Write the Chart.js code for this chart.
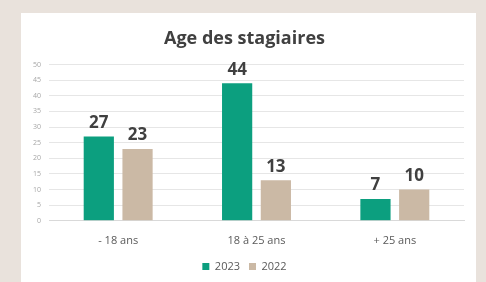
<!DOCTYPE html>
<html>
<head>
<meta charset="utf-8">
<script src="https://cdn.jsdelivr.net/npm/chart.js@4"></script>
<style>
  html, body { margin: 0; padding: 0; background: #e9e2dc; }
  body { width: 486px; height: 282px; position: relative; overflow: hidden; }
  #panel { position: absolute; left: 21px; top: 13px; width: 455px; height: 269px; background: #ffffff; }
</style>
</head>
<body>
<div id="panel"><canvas id="chAge" width="455" height="269"></canvas></div>
<script>
// chart data
var categories = ['- 18 ans', '18 à 25 ans', '+ 25 ans'];
var values2023 = [27, 44, 7];
var values2022 = [23, 13, 10];

var green = '#0c9f7f';
var beige = '#cbb9a5';

// value labels above each bar
var barLabels = {
    id: 'barLabels',
    afterDatasetsDraw: function (chart) {
        var ctx = chart.ctx;
        ctx.save();
        ctx.font = 'bold 17px "Open Sans", sans-serif';
        ctx.fillStyle = '#404040';
        ctx.textAlign = 'center';
        ctx.textBaseline = 'bottom';
        chart.data.datasets.forEach(function (ds, i) {
            chart.getDatasetMeta(i).data.forEach(function (bar, j) {
                ctx.fillText(ds.data[j], bar.x, bar.y - 5);
            });
        });
        ctx.restore();
    }
};

var chAge = document.getElementById('chAge');
if (chAge) {
    new Chart(chAge, {
        type: 'bar',
        data: {
            labels: categories,
            datasets: [
                { label: '2023', data: values2023, backgroundColor: green, borderWidth: 0 },
                { label: '2022', data: values2022, backgroundColor: beige, borderWidth: 0 }
            ]
        },
        options: {
            responsive: false,
            animation: false,
            categoryPercentage: 0.56,
            barPercentage: 0.78,
            layout: { padding: { left: 4, right: 12, top: 4, bottom: 0 } },
            plugins: {
                title: {
                    display: true,
                    text: 'Age des stagiaires',
                    color: '#404040',
                    font: { family: '"Open Sans", sans-serif', size: 18, weight: 'bold' },
                    padding: { top: 11, bottom: 15 }
                },
                legend: {
                    position: 'bottom',
                    labels: {
                        boxWidth: 7,
                        boxHeight: 7,
                        color: '#595959',
                        font: { family: '"Open Sans", sans-serif', size: 11 },
                        padding: 9
                    }
                },
                tooltip: { enabled: false }
            },
            scales: {
                x: {
                    grid: { display: false },
                    border: { display: true, color: '#d9d9d9' },
                    ticks: { color: '#595959', font: { family: '"Open Sans", sans-serif', size: 11 }, padding: 5 }
                },
                y: {
                    min: 0,
                    max: 50,
                    ticks: { stepSize: 5, color: '#a6a6a6', font: { family: '"Open Sans", sans-serif', size: 7 }, padding: 8 },
                    grid: { color: '#e6e6e6', drawTicks: false },
                    border: { display: false }
                }
            }
        },
        plugins: [barLabels]
    });
}
</script>
</body>
</html>
